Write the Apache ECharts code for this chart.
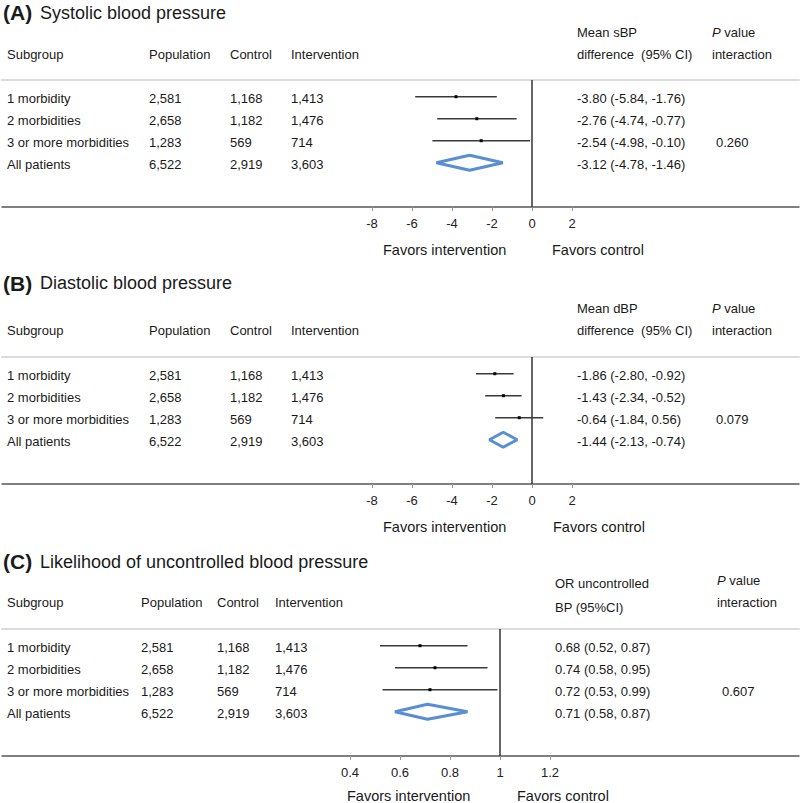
<!DOCTYPE html>
<html><head><meta charset="utf-8">
<script src="https://cdn.jsdelivr.net/npm/echarts@6/dist/echarts.min.js"></script>
<style>html,body{margin:0;padding:0;background:#fff}#c{width:800px;height:803px}</style>
</head><body><div id="c"></div>
<script>
// ---------- data ----------
const subgroups = ['1 morbidity', '2 morbidities', '3 or more morbidities', 'All patients'];
const population = ['2,581', '2,658', '1,283', '6,522'];
const controlN = ['1,168', '1,182', '569', '2,919'];
const interventionN = ['1,413', '1,476', '714', '3,603'];

const sbpMean = [-3.80, -2.76, -2.54, -3.12];
const sbpLower = [-5.84, -4.74, -4.98, -4.78];
const sbpUpper = [-1.76, -0.77, -0.10, -1.46];

const dbpMean = [-1.86, -1.43, -0.64, -1.44];
const dbpLower = [-2.80, -2.34, -1.84, -2.13];
const dbpUpper = [-0.92, -0.52, 0.56, -0.74];

const orMean = [0.68, 0.74, 0.72, 0.71];
const orLower = [0.52, 0.58, 0.53, 0.58];
const orUpper = [0.87, 0.95, 0.99, 0.87];

const pInteraction = ['0.260', '0.079', '0.607'];
const diffTicks = [-8, -6, -4, -2, 0, 2];
const orTicks = [0.4, 0.6, 0.8, 1, 1.2];

const panelLetters = ['(A)', '(B)', '(C)'];
const panelTitles = ['Systolic blood pressure', 'Diastolic blood pressure', 'Likelihood of uncontrolled blood pressure'];
const tableHeaders = ['Subgroup', 'Population', 'Control', 'Intervention'];
const estHeaders = [['Mean sBP', 'difference  (95% CI)'], ['Mean dBP', 'difference  (95% CI)'], ['OR uncontrolled', 'BP (95%CI)']];
const favorsLabels = ['Favors intervention', 'Favors control'];

// ---------- layout ----------
const FONT = '"Liberation Sans", Arial, Helvetica, sans-serif';
const panels = [
  { mean: sbpMean, lower: sbpLower, upper: sbpUpper, ticks: diffTicks, ref: 0, xMin: -26.5, xMax: 13.35,
    titleY: 12.5, subHdrY: 54, estHdrY: [32, 54], pHdrY: [32, 54], gridTop: 80, favorsY: 250,
    cols: [7, 149, 230, 291], estX: 577, pX: 712, pValX: 716, favorsX: [383, 552] },
  { mean: dbpMean, lower: dbpLower, upper: dbpUpper, ticks: diffTicks, ref: 0, xMin: -26.5, xMax: 13.35,
    titleY: 283, subHdrY: 330.5, estHdrY: [308, 330.5], pHdrY: [308, 330.5], gridTop: 357, favorsY: 526.5,
    cols: [7, 149, 230, 291], estX: 577, pX: 712, pValX: 716, favorsX: [383, 553] },
  { mean: orMean, lower: orLower, upper: orUpper, ticks: orTicks, ref: 1, xMin: -0.992, xMax: 2.196,
    titleY: 561.5, subHdrY: 602, estHdrY: [583.5, 607], pHdrY: [580, 602], gridTop: 629, favorsY: 796,
    cols: [7, 141, 217, 275], estX: 555, pX: 717, pValX: 722, favorsX: [347, 517] }
];
const GRID_H = 127;
const ROW_GAP = 22;
const FIRST_ROW = 16.7;

function fmt(v) { return v.toFixed(2); }

function makeRender(p, k) {
  return function (params, api) {
    const i = api.value(1);
    const y = api.coord([p.ref, i])[1];
    const xe = api.coord([api.value(0), i])[0];
    const xl = api.coord([api.value(2), i])[0];
    const xh = api.coord([api.value(3), i])[0];
    const cs = params.coordSys;
    const ty = y + 1.5;
    const txt = (s, x) => ({ type: 'text', style: { text: s, x: x, y: ty, fill: '#1a1a1a',
      font: '13px ' + FONT, align: 'left', verticalAlign: 'middle', textAlign: 'left', textVerticalAlign: 'middle' } });
    const children = [
      txt(subgroups[i], p.cols[0]),
      txt(population[i], p.cols[1]),
      txt(controlN[i], p.cols[2]),
      txt(interventionN[i], p.cols[3]),
      txt(fmt(api.value(0)) + ' (' + fmt(api.value(2)) + ', ' + fmt(api.value(3)) + ')', p.estX)
    ];
    if (i === 2) children.push(txt(pInteraction[k], p.pValX));
    if (i === subgroups.length - 1) {
      children.push({ type: 'polygon', shape: { points: [[xl, y], [xe, y - 7.5], [xh, y], [xe, y + 7.5]] },
        style: { fill: 'none', stroke: '#5a8ed2', lineWidth: 3, lineJoin: 'bevel' } });
    } else {
      children.push({ type: 'line', shape: { x1: xl, y1: y, x2: xh, y2: y },
        style: { stroke: '#3a3a3a', lineWidth: 1.5 } });
      children.push({ type: 'rect', shape: { x: xe - 1.5, y: y - 1.5, width: 3, height: 3 },
        style: { fill: '#000' } });
    }
    if (i === 0) {
      const xr = api.coord([p.ref, i])[0];
      children.push({ type: 'line', shape: { x1: xr, y1: cs.y, x2: xr, y2: cs.y + cs.height },
        style: { stroke: '#333', lineWidth: 1.5 } });
    }
    return { type: 'group', children: children };
  };
}

const grids = [], xAxes = [], yAxes = [], series = [], graphics = [];
panels.forEach((p, k) => {
  grids.push({ left: 2, width: 797, top: p.gridTop, height: GRID_H });
  const yMin = -FIRST_ROW / ROW_GAP;
  const yMax = yMin + GRID_H / ROW_GAP;
  yAxes.push({ type: 'value', gridIndex: k, min: yMin, max: yMax, inverse: true, show: false });
  xAxes.push({
    type: 'value', gridIndex: k, position: 'bottom', min: p.xMin, max: p.xMax,
    axisLine: { show: true, onZero: false, lineStyle: { color: '#555', width: 1.5 } },
    axisTick: { show: true, customValues: p.ticks, length: 4, lineStyle: { color: '#999', width: 1 } },
    axisLabel: { show: true, customValues: p.ticks, margin: 10, color: '#222', fontSize: 13, fontFamily: FONT },
    splitLine: { show: false }
  });
  xAxes.push({
    type: 'value', gridIndex: k, position: 'top', min: p.xMin, max: p.xMax,
    axisLine: { show: true, onZero: false, lineStyle: { color: '#dcdcdc', width: 2 } },
    axisTick: { show: false }, axisLabel: { show: false }, splitLine: { show: false }
  });
  series.push({
    type: 'custom', xAxisIndex: 2 * k, yAxisIndex: k, clip: false, silent: true, animation: false,
    encode: { x: [0, 2, 3], y: 1 },
    data: subgroups.map((_, i) => [p.mean[i], i, p.lower[i], p.upper[i]]),
    renderItem: makeRender(p, k)
  });
  const t = (s, x, y, size, extra) => Object.assign({ type: 'text', x: x, y: y, silent: true,
    style: Object.assign({ text: s, fill: '#1a1a1a', font: size + 'px ' + FONT, align: 'left', verticalAlign: 'middle' }, extra || {}) });
  graphics.push(t(panelLetters[k], 3, p.titleY, 21, { font: 'bold 21px ' + FONT }));
  graphics.push(t(panelTitles[k], 40, p.titleY, 18));
  tableHeaders.forEach((h, j) => graphics.push(t(h, p.cols[j], p.subHdrY, 13)));
  graphics.push(t(estHeaders[k][0], p.estX, p.estHdrY[0], 13));
  graphics.push(t(estHeaders[k][1], p.estX, p.estHdrY[1], 13));
  graphics.push({ type: 'text', x: p.pX, y: p.pHdrY[0], silent: true,
    style: { text: '{i|P} value', fill: '#1a1a1a', font: '13px ' + FONT, align: 'left', verticalAlign: 'middle',
      rich: { i: { fontStyle: 'italic', fontSize: 13, fontFamily: FONT, fill: '#1a1a1a' } } } });
  graphics.push(t('interaction', p.pX, p.pHdrY[1], 13));
  graphics.push(t(favorsLabels[0], p.favorsX[0], p.favorsY, 14.5));
  graphics.push(t(favorsLabels[1], p.favorsX[1], p.favorsY, 14.5));
});

const chart = echarts.init(document.getElementById('c'), null, { renderer: 'svg', width: 800, height: 803 });
chart.setOption({
  animation: false,
  backgroundColor: '#fff',
  grid: grids, xAxis: xAxes, yAxis: yAxes, series: series, graphic: graphics
});
</script>
</body></html>
